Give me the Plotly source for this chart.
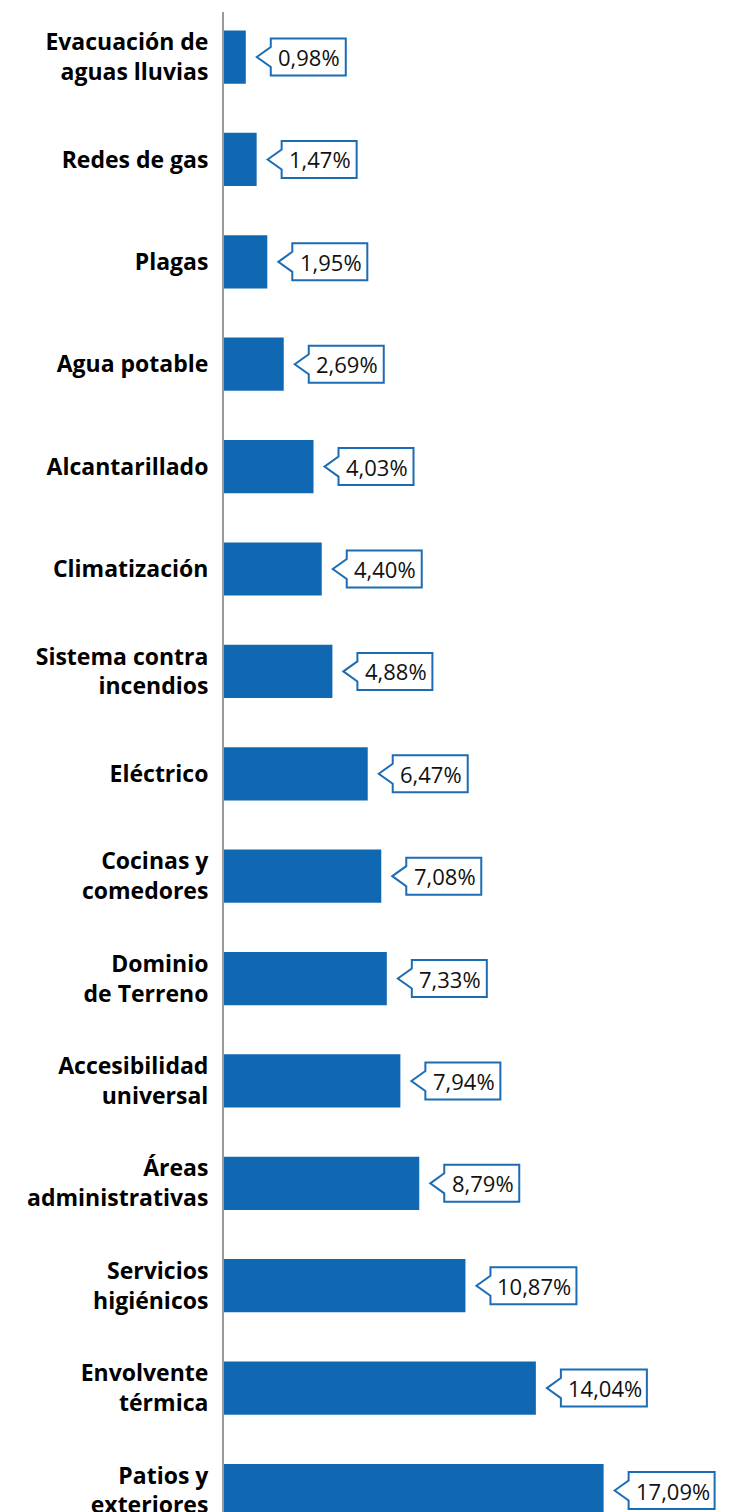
import plotly.graph_objects as go

categories = [
    "Evacuación de<br>aguas lluvias",
    "Redes de gas",
    "Plagas",
    "Agua potable",
    "Alcantarillado",
    "Climatización",
    "Sistema contra<br>incendios",
    "Eléctrico",
    "Cocinas y<br>comedores",
    "Dominio<br>de Terreno",
    "Accesibilidad<br>universal",
    "Áreas<br>administrativas",
    "Servicios<br>higiénicos",
    "Envolvente<br>térmica",
    "Patios y<br>exteriores",
]
values = [0.98, 1.47, 1.95, 2.69, 4.03, 4.40, 4.88, 6.47, 7.08, 7.33, 7.94, 8.79, 10.87, 14.04, 17.09]
value_labels = [f"{v:.2f}".replace(".", ",") + "%" for v in values]

BAR_COLOR = "#1068b2"
CALLOUT_COLOR = "#1b6cb5"

fig = go.Figure()
fig.add_trace(go.Bar(
    x=values, y=categories, orientation="h",
    marker=dict(color=BAR_COLOR, line=dict(width=0)),
    hoverinfo="skip",
))

shapes = []
annotations = []
for cat, v, lab in zip(categories, values, value_labels):
    w = 20 + 11 * len(lab)
    x0 = 25
    x1 = x0 + w
    h = 18.5
    n = 10
    path = (f"M 11,0 L {x0},{n} L {x0},{h} L {x1},{h} L {x1},{-h} "
            f"L {x0},{-h} L {x0},{-n} Z")
    shapes.append(dict(
        type="path", path=path,
        xref="x", yref="y",
        xsizemode="pixel", ysizemode="pixel",
        xanchor=v, yanchor=cat,
        line=dict(color=CALLOUT_COLOR, width=2),
        fillcolor="white", layer="above",
    ))
    annotations.append(dict(
        x=v, y=cat, xref="x", yref="y",
        text=lab, showarrow=False,
        xanchor="center", yanchor="middle",
        xshift=x0 + w / 2 + 1,
        font=dict(family="Open Sans", size=22, color="#111111"),
    ))

fig.update_layout(
    width=738, height=1504,
    margin=dict(l=216, r=0, t=4, b=0, autoexpand=False),
    plot_bgcolor="white", paper_bgcolor="white",
    showlegend=False,
    bargap=0.48,
    shapes=shapes,
    annotations=annotations,
    xaxis=dict(range=[0, 23.5], visible=False, fixedrange=True),
    yaxis=dict(
        type="category", automargin=False,
        categoryorder="array", categoryarray=categories,
        range=[14.21, -0.44],
        showline=True, linecolor="#9a9a9a", linewidth=2,
        showgrid=False, zeroline=False,
        ticks="", ticklabelstandoff=9,
        tickfont=dict(family="Open Sans", size=23, color="black", weight="bold"),
    ),
)

fig.write_html("out.html")
